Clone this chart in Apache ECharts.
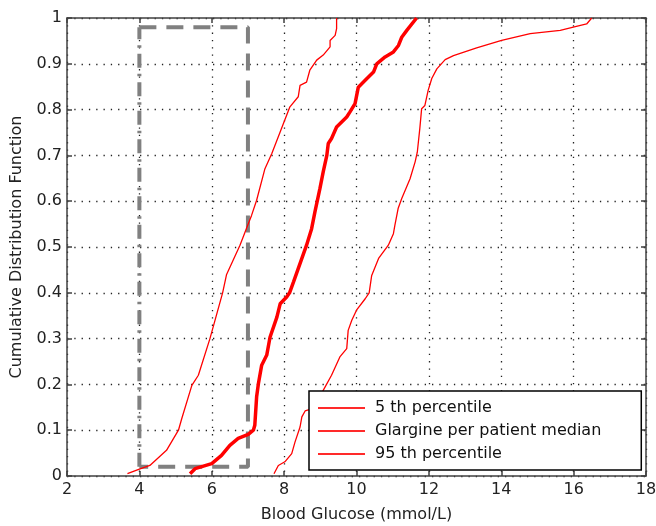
<!DOCTYPE html>
<html>
<head>
<meta charset="utf-8">
<script src="https://cdn.jsdelivr.net/npm/echarts@6/dist/echarts.min.js"></script>
<style>
html,body{margin:0;padding:0;background:#fff;}
#chart{width:656px;height:526px;}
</style>
</head>
<body>
<div id="chart"></div>
<script>
// Tick values
var xTicks = [2, 4, 6, 8, 10, 12, 14, 16, 18];
var yTicks = [0, 0.1, 0.2, 0.3, 0.4, 0.5, 0.6, 0.7, 0.8, 0.9, 1];

// Series names
var seriesNames = ['5 th percentile', 'Glargine per patient median', '95 th percentile'];

// 5th percentile curve
var p5X = [3.67, 4.0, 4.29, 4.75, 5.08, 5.17, 5.45, 5.63, 5.95, 6.30, 6.41, 6.78, 7.01, 7.10, 7.24, 7.47, 7.66, 7.89, 8.16, 8.39, 8.44, 8.62, 8.71, 8.90, 9.08, 9.27, 9.27, 9.41, 9.45, 9.45];
var p5Y = [0.005, 0.015, 0.023, 0.056, 0.10, 0.125, 0.198, 0.22, 0.30, 0.40, 0.44, 0.504, 0.551, 0.569, 0.602, 0.671, 0.704, 0.751, 0.806, 0.828, 0.853, 0.86, 0.886, 0.908, 0.919, 0.937, 0.951, 0.962, 0.977, 1.0];

// Per patient median curve
var medX = [5.40, 5.54, 6.0, 6.27, 6.50, 6.73, 7.01, 7.15, 7.19, 7.24, 7.29, 7.38, 7.52, 7.61, 7.80, 7.89, 8.07, 8.15, 8.26, 8.49, 8.62, 8.76, 8.85, 8.99, 9.08, 9.18, 9.22, 9.31, 9.45, 9.73, 9.82, 9.96, 10.05, 10.24, 10.47, 10.56, 10.79, 11.02, 11.16, 11.25, 11.39, 11.66];
var medY = [0.005, 0.016, 0.027, 0.045, 0.067, 0.082, 0.091, 0.10, 0.111, 0.173, 0.202, 0.242, 0.264, 0.303, 0.347, 0.376, 0.391, 0.40, 0.424, 0.475, 0.504, 0.540, 0.576, 0.628, 0.664, 0.70, 0.726, 0.737, 0.762, 0.784, 0.795, 0.813, 0.849, 0.864, 0.882, 0.90, 0.915, 0.926, 0.94, 0.958, 0.973, 1.0];

// 95th percentile curve
var p95X = [7.72, 7.84, 8.02, 8.21, 8.30, 8.44, 8.49, 8.58, 8.69, 8.90, 9.08, 9.31, 9.54, 9.73, 9.77, 9.87, 10.0, 10.24, 10.35, 10.42, 10.61, 10.88, 11.02, 11.06, 11.15, 11.25, 11.48, 11.62, 11.68, 11.75, 11.80, 11.89, 11.98, 12.08, 12.22, 12.45, 12.68, 13.32, 14.01, 14.80, 15.63, 15.99, 16.36, 16.5];
var p95Y = [0.005, 0.023, 0.031, 0.049, 0.074, 0.107, 0.129, 0.142, 0.145, 0.16, 0.187, 0.22, 0.26, 0.278, 0.318, 0.34, 0.362, 0.387, 0.40, 0.438, 0.475, 0.504, 0.529, 0.547, 0.584, 0.606, 0.649, 0.686, 0.707, 0.759, 0.802, 0.809, 0.842, 0.868, 0.889, 0.909, 0.918, 0.935, 0.951, 0.966, 0.973, 0.98, 0.987, 1.0];

// Target range box (dashed) and its left side (dash-dot)
var boxX = [4, 7, 7, 4];
var boxY = [0.98, 0.98, 0.02, 0.02];
var boxLeftX = [4, 4];
var boxLeftY = [0.02, 0.98];

function zip(xs, ys) {
  var out = [];
  for (var i = 0; i < xs.length; i++) out.push([xs[i], ys[i]]);
  return out;
}

var FONT = 'DejaVu Sans';
var AX = '#404040';
var gridLine = { show: true, lineStyle: { color: '#222', width: 1.3, type: [1.3, 6] } };

var chart = echarts.init(document.getElementById('chart'), null, { renderer: 'canvas' });
chart.setOption({
  animation: false,
  backgroundColor: '#fff',
  grid: { left: 67, top: 18, width: 579, height: 458, containLabel: false, outerBoundsMode: 'none' },
  xAxis: [{
    type: 'value', min: xTicks[0], max: xTicks[xTicks.length - 1], interval: 2,
    position: 'bottom',
    name: 'Blood Glucose (mmol/L)', nameLocation: 'middle', nameGap: 31,
    nameTextStyle: { fontFamily: FONT, fontSize: 16, color: '#222' },
    axisLine: { show: true, onZero: false, lineStyle: { color: AX, width: 1.5 } },
    axisTick: { show: true, inside: true, length: 5, lineStyle: { color: AX, width: 1.5 } },
    axisLabel: { margin: 6, fontFamily: FONT, fontSize: 16, color: '#222' },
    splitLine: gridLine
  }, {
    type: 'value', min: xTicks[0], max: xTicks[xTicks.length - 1], interval: 2,
    position: 'top',
    axisLine: { show: true, onZero: false, lineStyle: { color: AX, width: 1.5 } },
    axisTick: { show: true, inside: true, length: 5, lineStyle: { color: AX, width: 1.5 } },
    axisLabel: { show: false },
    splitLine: { show: false }
  }],
  yAxis: [{
    type: 'value', min: yTicks[0], max: yTicks[yTicks.length - 1], interval: 0.1,
    position: 'left',
    name: 'Cumulative Distribution Function', nameLocation: 'middle', nameGap: 42,
    nameTextStyle: { fontFamily: FONT, fontSize: 16, color: '#222' },
    axisLine: { show: true, onZero: false, lineStyle: { color: AX, width: 1.5 } },
    axisTick: { show: true, inside: true, length: 5, lineStyle: { color: AX, width: 1.5 } },
    axisLabel: { margin: 5, fontFamily: FONT, fontSize: 16, color: '#222',
      formatter: function (v) { return String(Math.round(v * 10) / 10); } },
    splitLine: gridLine
  }, {
    type: 'value', min: yTicks[0], max: yTicks[yTicks.length - 1], interval: 0.1,
    position: 'right',
    axisLine: { show: true, onZero: false, lineStyle: { color: AX, width: 1.5 } },
    axisTick: { show: true, inside: true, length: 5, lineStyle: { color: AX, width: 1.5 } },
    axisLabel: { show: false },
    splitLine: { show: false }
  }],
  legend: {
    data: seriesNames,
    orient: 'vertical',
    left: 309, top: 391,
    backgroundColor: '#fff',
    borderColor: '#000', borderWidth: 1.5, borderRadius: 0,
    padding: [9, 40, 8, 8],
    itemWidth: 47, itemHeight: 16, itemGap: 7,
    lineStyle: { width: 2, color: '#ff2a2a' },
    itemStyle: { opacity: 0 },
    textStyle: { fontFamily: FONT, fontSize: 16, color: '#111', lineHeight: 16, padding: [0, 0, 0, 5] },
    selectedMode: false
  },
  series: [
    {
      name: 'boxLeft', type: 'line', xAxisIndex: 0, yAxisIndex: 0,
      data: zip(boxLeftX, boxLeftY), symbol: 'none', silent: true,
      lineStyle: { color: '#808080', width: 4, type: [14, 6, 2.5, 6] }, z: 1
    },
    {
      name: 'box', type: 'line', xAxisIndex: 0, yAxisIndex: 0,
      data: zip(boxX, boxY), symbol: 'none', silent: true,
      lineStyle: { color: '#808080', width: 4, type: [17, 10] }, z: 1
    },
    {
      name: seriesNames[0], type: 'line', data: zip(p5X, p5Y), symbol: 'none',
      color: '#ff0000', lineStyle: { color: '#ff0000', width: 1.3 }, z: 3
    },
    {
      name: seriesNames[1], type: 'line', data: zip(medX, medY), symbol: 'none',
      color: '#ff0000', lineStyle: { color: '#ff0000', width: 3.5 }, z: 3
    },
    {
      name: seriesNames[2], type: 'line', data: zip(p95X, p95Y), symbol: 'none',
      color: '#ff0000', lineStyle: { color: '#ff0000', width: 1.3 }, z: 3
    }
  ]
});
</script>
</body>
</html>
